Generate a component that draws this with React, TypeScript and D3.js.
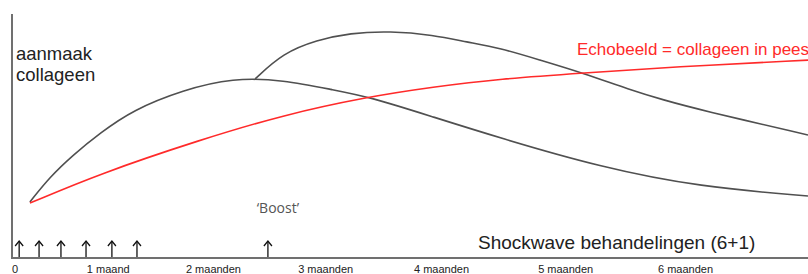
import { useMemo } from 'react';
import * as d3 from 'd3';

// x in days after start, y in arbitrary "collagen" units
const productionFirst: [number, number][] = [
    [4.5, 23.0], [9.5, 33.2], [15.3, 42.2], [22.1, 51.2], [30.4, 60.7],
    [43.0, 68.9], [55.5, 73.8], [68.1, 73.0], [80.7, 68.9],
    [89.9, 66.0], [105.8, 57.8], [122.6, 49.2], [147.7, 37.3], [172.9, 29.1],
    [200, 25.4],
];

const productionBoost: [number, number][] = [
    [61.1, 73.4], [68.1, 84.0], [76.6, 89.3], [84.9, 92.2], [95.0, 93.0],
    [105.8, 91.4], [114.3, 88.5], [122.6, 86.1], [132.7, 81.1], [143.5, 75.8],
    [155.3, 68.9], [163.6, 64.8], [172.9, 60.7], [200, 50.4],
];

const echoCollagen: [number, number][] = [
    [4.5, 22.5], [22.1, 34.6], [47.2, 48.4], [68.1, 58.6], [89.2, 66.0],
    [105.8, 70.1], [122.6, 73.4], [143.5, 75.8], [166.1, 78.3], [200, 81.1],
];

const treatmentDays = [1.8, 6.8, 12.3, 18.6, 25.1, 31.4, 64.3];
const boostDay = 64.3;

const tickDays = [0, 18.8, 43.7, 71.9, 101, 132.2, 162.3];
const tickLabels = ['0', '1 maand', '2 maanden', '3 maanden', '4 maanden', '5 maanden', '6 maanden'];

const W = 808;
const H = 274;
const margin = { left: 12, right: 0, top: 14, bottom: 16 };

export default function App() {
    const x = useMemo(() => d3.scaleLinear().domain([0, 200]).range([margin.left, W - margin.right]), []);
    const y = useMemo(() => d3.scaleLinear().domain([0, 100]).range([H - margin.bottom, margin.top]), []);
    const line = d3
        .line<[number, number]>()
        .x((d) => x(d[0]))
        .y((d) => y(d[1]))
        .curve(d3.curveBasis);

    const baseY = y(0);
    const font = '"Liberation Sans", Arial, sans-serif';

    return (
        <svg width={W} height={H} viewBox={`0 0 ${W} ${H}`} style={{ display: 'block', background: '#fff' }}>
            <style>{`body{margin:0}`}</style>
            <path d={line(productionFirst) ?? ''} fill="none" stroke="#505050" strokeWidth={1.6} />
            <path d={line(productionBoost) ?? ''} fill="none" stroke="#505050" strokeWidth={1.6} />
            <path d={line(echoCollagen) ?? ''} fill="none" stroke="#ff2a2a" strokeWidth={1.6} />

            {/* axes */}
            <line x1={x(0)} x2={x(0)} y1={y(100)} y2={baseY + 1} stroke="#707070" strokeWidth={2} />
            <line x1={x(0)} x2={W} y1={baseY} y2={baseY} stroke="#707070" strokeWidth={2} />

            {treatmentDays.map((d, i) => {
                const px = x(d);
                return (
                    <g key={i} stroke="#111" strokeWidth={1.3} fill="none">
                        <line x1={px} x2={px} y1={baseY - 17} y2={baseY - 1} />
                        <polyline points={`${px - 4},${baseY - 12} ${px},${baseY - 17} ${px + 4},${baseY - 12}`} />
                    </g>
                );
            })}

            {tickDays.map((d, i) => (
                <text key={i} x={x(d)} y={273} fontFamily={font} fontSize={11} fill="#222">
                    {tickLabels[i]}
                </text>
            ))}

            <text x={16} y={60} fontFamily={font} fontSize={18.5} fill="#222">aanmaak</text>
            <text x={16} y={81} fontFamily={font} fontSize={18.5} fill="#222">collageen</text>

            <text x={577} y={55} fontFamily={font} fontSize={17} fill="#ff2a2a">
                Echobeeld = collageen in pees
            </text>

            <text x={478} y={249} fontFamily={font} fontSize={19} fill="#222">
                Shockwave behandelingen (6+1)
            </text>

            <text x={x(boostDay) + 10} y={213} textAnchor="middle" fontFamily='"Open Sans", sans-serif' fontSize={14} fill="#555">
                ‘Boost’
            </text>
        </svg>
    );
}
